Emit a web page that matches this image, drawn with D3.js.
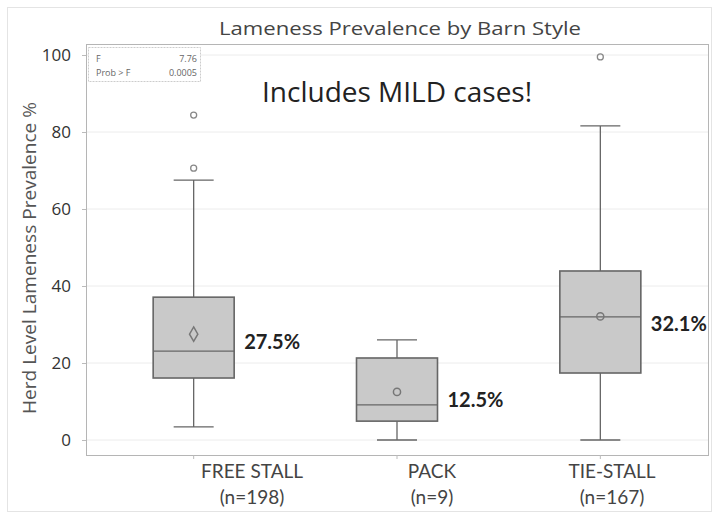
<!DOCTYPE html>
<html>
<head>
<meta charset="utf-8">
<script src="https://cdn.jsdelivr.net/npm/d3@7"></script>
<style>
  body { margin: 0; background: #fff; }
  svg { display: block; }
</style>
</head>
<body>
<svg width="716" height="515"></svg>
<script>
// box plot values
const categories = ["FREE STALL", "PACK", "TIE-STALL"];
const nLabels = ["(n=198)", "(n=9)", "(n=167)"];
const whiskerLow = [3.4, 0, 0];
const q1 = [16.1, 4.9, 17.4];
const median = [23.1, 9.1, 32.0];
const q3 = [37.1, 21.3, 43.9];
const whiskerHigh = [67.5, 26.0, 81.6];
const means = [27.5, 12.5, 32.1];
const meanLabels = ["27.5%", "12.5%", "32.1%"];
const outliers = [[84.4, 70.6], [], [99.5]];
const yTicks = [0, 20, 40, 60, 80, 100];

const svg = d3.select("svg");
const plot = { left: 86, right: 708, top: 44, bottom: 455 };

const x = d3.scalePoint().domain(categories).range([92, 702]).padding(0.5);
const xLab = d3.scalePoint().domain(categories).range([252, 612]);
const y = d3.scaleLinear().domain([0, 100]).range([440, 55]);

const boxW = 81, capW = 40;
const fontMain = "'Open Sans', sans-serif";

// outer border
svg.append("rect")
  .attr("x", 7.5).attr("y", 7.5).attr("width", 704).attr("height", 504)
  .attr("fill", "none").attr("stroke", "#e4e4e4");

// gridlines
svg.append("g")
  .selectAll("line")
  .data(yTicks)
  .enter().append("line")
  .attr("x1", plot.left).attr("x2", plot.right)
  .attr("y1", d => y(d)).attr("y2", d => y(d))
  .attr("stroke", "#ececec");

// frame
svg.append("rect")
  .attr("x", plot.left + 0.5).attr("y", plot.top + 0.5)
  .attr("width", plot.right - plot.left).attr("height", plot.bottom - plot.top)
  .attr("fill", "none").attr("stroke", "#b5b5b5");

// y axis
const yAxis = svg.append("g")
  .attr("transform", `translate(${plot.left},0)`)
  .call(d3.axisLeft(y).tickValues(yTicks).tickSize(4).tickPadding(11));
yAxis.select(".domain").remove();
yAxis.selectAll(".tick line").attr("stroke", "#bbb");
yAxis.selectAll(".tick text")
  .attr("fill", "#333").style("font-family", fontMain).style("font-size", "17px");

// small ticks on bottom
svg.append("g")
  .selectAll("line")
  .data(categories)
  .enter().append("line")
  .attr("x1", d => x(d)).attr("x2", d => x(d))
  .attr("y1", plot.bottom).attr("y2", plot.bottom + 4)
  .attr("stroke", "#bbb");

const boxes = categories.map((c, i) => ({
  c, lo: whiskerLow[i], q1: q1[i], med: median[i], q3: q3[i], hi: whiskerHigh[i],
  mean: means[i], label: meanLabels[i], out: outliers[i], i
}));

const g = svg.append("g").attr("stroke", "#666").attr("stroke-width", 1.3);

// whiskers
g.selectAll(".whisk")
  .data(boxes)
  .enter().append("path")
  .attr("fill", "none")
  .attr("d", d => {
    const cx = x(d.c);
    return `M${cx},${y(d.hi)}V${y(d.q3)}M${cx},${y(d.q1)}V${y(d.lo)}` +
      `M${cx - capW / 2},${y(d.hi)}H${cx + capW / 2}` +
      `M${cx - capW / 2},${y(d.lo)}H${cx + capW / 2}`;
  });

// boxes
g.selectAll(".box")
  .data(boxes)
  .enter().append("rect")
  .attr("x", d => x(d.c) - boxW / 2)
  .attr("y", d => y(d.q3))
  .attr("width", boxW)
  .attr("height", d => y(d.q1) - y(d.q3))
  .attr("fill", "#c9c9c9")
  .attr("stroke-width", 1.6);

// medians
g.selectAll(".med")
  .data(boxes)
  .enter().append("line")
  .attr("x1", d => x(d.c) - boxW / 2).attr("x2", d => x(d.c) + boxW / 2)
  .attr("y1", d => y(d.med)).attr("y2", d => y(d.med));

// means: diamond for the first group, circles for others
g.selectAll(".mean")
  .data(boxes)
  .enter().append("path")
  .attr("fill", "none")
  .attr("stroke", "#777")
  .attr("stroke-width", 1.5)
  .attr("transform", d => `translate(${x(d.c)},${y(d.mean)})`)
  .attr("d", d => d3.symbol().type(d.i === 0 ? d3.symbolDiamond : d3.symbolCircle)
    .size(d.i === 0 ? 60 : 40)());

// outliers
const outPts = boxes.flatMap(d => d.out.map(v => ({ c: d.c, v })));
g.selectAll(".out")
  .data(outPts)
  .enter().append("circle")
  .attr("cx", d => x(d.c))
  .attr("cy", d => y(d.v))
  .attr("r", 3)
  .attr("fill", "none")
  .attr("stroke", "#888");

// mean labels
svg.append("g")
  .selectAll("text")
  .data(boxes)
  .enter().append("text")
  .attr("x", d => x(d.c) + boxW / 2 + 10)
  .attr("y", d => y(d.mean) + 15)
  .text(d => d.label)
  .attr("fill", "#222")
  .style("font-family", "Lato, sans-serif")
  .style("font-weight", "bold")
  .style("font-size", "20px");

// category labels
const cl = svg.append("g")
  .selectAll("text")
  .data(categories)
  .enter().append("text")
  .attr("text-anchor", "middle")
  .attr("fill", "#444")
  .style("font-family", "Lato, sans-serif")
  .style("font-size", "19px");
cl.append("tspan").attr("x", d => xLab(d)).attr("y", 478).text(d => d);
cl.append("tspan").attr("x", d => xLab(d)).attr("y", 504)
  .text((d, i) => nLabels[i]);

// title
svg.append("text")
  .attr("x", 400).attr("y", 35)
  .attr("text-anchor", "middle")
  .attr("fill", "#444")
  .attr("textLength", 362)
  .attr("lengthAdjust", "spacingAndGlyphs")
  .style("font-family", fontMain)
  .style("font-size", "19px")
  .text("Lameness Prevalence by Barn Style");

// y label
svg.append("text")
  .attr("transform", "translate(36,258) rotate(-90)")
  .attr("text-anchor", "middle")
  .attr("fill", "#555")
  .attr("textLength", 312)
  .attr("lengthAdjust", "spacingAndGlyphs")
  .style("font-family", fontMain)
  .style("font-size", "18px")
  .text("Herd Level Lameness Prevalence %");

// annotation
svg.append("text")
  .attr("x", 262).attr("y", 102)
  .attr("fill", "#222")
  .style("font-family", fontMain)
  .style("font-size", "28px")
  .text("Includes MILD cases!");

// F test inset
svg.append("rect")
  .attr("x", 88.5).attr("y", 47.5).attr("width", 112).attr("height", 34)
  .attr("fill", "#fff").attr("stroke", "#ccc").attr("stroke-dasharray", "2,1");
const inset = svg.append("g")
  .attr("fill", "#666")
  .style("font-family", fontMain)
  .style("font-size", "9px");
inset.append("text").attr("x", 96).attr("y", 62).text("F");
inset.append("text").attr("x", 197).attr("y", 62).attr("text-anchor", "end").text("7.76");
inset.append("text").attr("x", 96).attr("y", 76).text("Prob > F");
inset.append("text").attr("x", 197).attr("y", 76).attr("text-anchor", "end").text("0.0005");
</script>
</body>
</html>
